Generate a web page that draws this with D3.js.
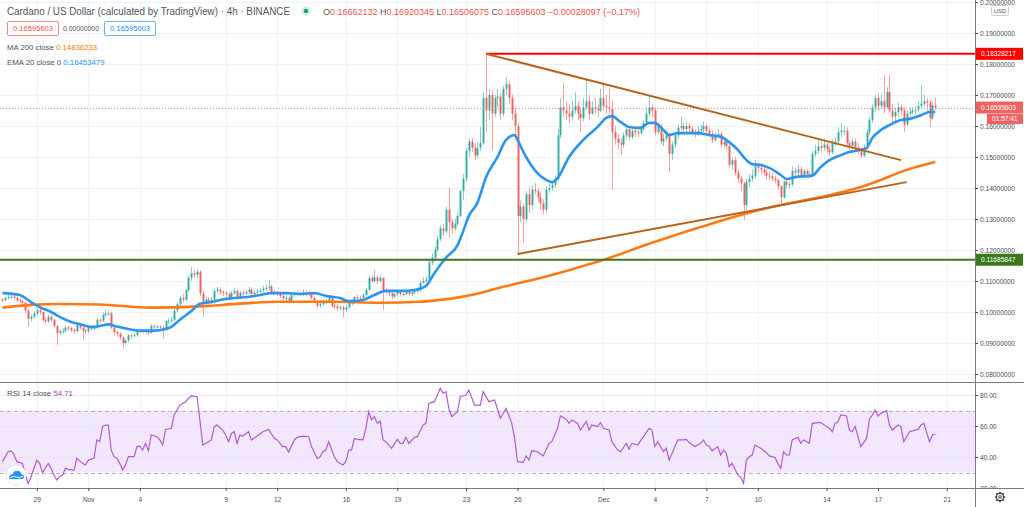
<!DOCTYPE html>
<html><head><meta charset="utf-8">
<script src="https://cdn.jsdelivr.net/npm/d3@7"></script>
<style>
html,body{margin:0;padding:0;background:#fff;}
svg{display:block;font-family:"Liberation Sans",Arial,sans-serif;}
</style></head><body>
<svg id="c" width="1024" height="507"></svg>
<script>
// ---------------- DATA ----------------
// 4h candles ADA/USD from 2020-10-27 00:00 UTC, prices in 1e-4 USD
const firstOpenE4 = 1040;
const closesE4 = [
1038,1045,1048,1050,1046,1038, 1035,1030,1005,978,985,995, 1005,1000,975,970,985,975,
955,932,938,940,950,948, 942,938,958,950,940,938,
948,945,950,975,972,990, 995,996,950,935,930,918, 900,908,925,922,925,938,
940,935,942,932,955,952, 953,950,942,970,972,975, 1005,1025,1045,1040,1070,1110,
1125,1120,1130,1060,1025,1040, 1035,1040,1068,1072,1065,1062, 1058,1045,1062,1068,1045,1062,
1060,1065,1072,1058,1062,1066, 1070,1076,1078,1082,1065,1062, 1060,1052,1045,1045,1035,1055,
1058,1060,1058,1062,1058,1060, 1045,1035,1020,1025,1032,1035, 1045,1020,1018,1012,1015,1008,
1015,1030,1030,1048,1046,1045, 1055,1072,1110,1100,1112,1100, 1110,1070,1065,1060,1050,1058,
1065,1058,1058,1068,1058,1063, 1068,1070,1095,1100,1105,1160, 1175,1200,1235,1270,1260,1330,
1290,1270,1285,1310,1390,1430, 1520,1550,1530,1505,1530,1545, 1690,1650,1700,1640,1690,1695,
1640,1720,1735,1690,1640,1600, 1310,1340,1300,1380,1345,1395, 1390,1370,1350,1330,1395,1400,
1410,1430,1570,1660,1650,1640, 1630,1650,1665,1640,1625,1660, 1680,1640,1660,1655,1650,1690,
1665,1660,1655,1580,1560,1545, 1540,1570,1590,1565,1585,1580, 1578,1590,1610,1640,1660,1650,
1580,1600,1550,1560,1570,1510, 1540,1570,1595,1600,1590,1600, 1592,1580,1575,1585,1590,1600,
1585,1575,1555,1570,1575,1540, 1550,1535,1475,1490,1450,1430, 1415,1345,1420,1430,1440,1470,
1465,1460,1450,1440,1438,1430, 1425,1405,1370,1420,1410,1412, 1455,1450,1460,1440,1455,1445,
1440,1510,1520,1535,1530,1540, 1525,1515,1545,1550,1580,1585, 1585,1545,1535,1550,1530,1525,
1505,1530,1580,1620,1660,1690, 1665,1680,1660,1710,1650,1630, 1645,1660,1650,1605,1640,1645,
1650,1652,1665,1672,1680,1676, 1625,1666.2132,1659.5603];
const highsE4 = [
1045,1050,1055,1058,1054,1050, 1046,1040,1032,1010,992,1002, 1012,1010,1002,982,992,990,
978,958,945,948,956,955, 952,948,962,962,954,946,
952,952,955,980,980,998, 1006,1003,1000,955,940,935, 922,912,930,930,932,942,
945,944,946,945,960,960, 958,958,955,975,980,985, 1012,1032,1052,1058,1075,1118,
1145,1135,1140,1135,1070,1048, 1048,1048,1075,1082,1080,1070, 1068,1062,1068,1078,1072,1068,
1070,1072,1082,1078,1070,1075, 1078,1085,1088,1103,1088,1072, 1068,1065,1058,1055,1050,1060,
1066,1068,1066,1072,1070,1068, 1065,1050,1040,1032,1040,1042, 1050,1048,1028,1025,1022,1020,
1022,1035,1038,1052,1055,1052, 1060,1078,1118,1120,1135,1118, 1118,1112,1078,1072,1068,1062,
1070,1070,1065,1075,1072,1068, 1075,1078,1100,1112,1115,1168, 1190,1210,1245,1280,1285,1340,
1400,1300,1300,1325,1395,1445, 1530,1561,1560,1545,1550,1597, 1710,1833,1720,1715,1700,1720,
1705,1730,1758,1745,1700,1660, 1610,1360,1350,1390,1400,1410, 1416,1400,1385,1365,1405,1415,
1420,1440,1590,1690,1739,1680, 1670,1680,1710,1680,1660,1690, 1748,1700,1680,1690,1670,1720,
1740,1700,1720,1680,1600,1575, 1560,1580,1600,1597,1595,1595, 1590,1600,1620,1660,1700,1670,
1660,1610,1605,1575,1585,1580, 1550,1580,1605,1630,1610,1615, 1610,1600,1590,1600,1605,1615,
1605,1595,1585,1580,1590,1580, 1560,1560,1540,1500,1500,1460, 1440,1420,1430,1445,1460,1490,
1480,1475,1470,1462,1455,1450, 1440,1430,1410,1425,1430,1420, 1470,1465,1475,1468,1462,1460,
1455,1520,1540,1560,1550,1560, 1552,1535,1555,1565,1595,1610, 1600,1595,1555,1560,1560,1545,
1530,1540,1590,1630,1670,1700, 1705,1700,1765,1725,1765,1670, 1660,1675,1670,1660,1650,1660,
1662,1665,1680,1732,1700,1690, 1685,1680,1692.0345];
const lowsE4 = [
1032,1035,1040,1042,1040,1032, 1028,1022,998,952,970,980, 990,992,968,962,965,968,
950,894,925,930,935,940, 935,930,935,944,910,928,
932,940,940,946,965,968, 985,988,945,925,920,910, 884,895,902,915,918,920,
932,930,930,925,930,945, 946,944,915,938,962,965, 970,998,1018,1030,1035,1065,
1100,1110,1110,1050,984,1015, 1020,1025,1035,1060,1055,1050, 1048,1038,1040,1055,1040,1040,
1052,1055,1058,1050,1052,1056, 1060,1064,1068,1070,1060,1055, 1052,1045,1038,1035,1028,1030,
1048,1050,1050,1052,1050,1050, 1040,1030,1012,1015,1020,1025, 1030,1015,1010,1005,1005,984,
1000,1010,1022,1025,1040,1038, 1040,1050,1068,1095,1095,1090, 1095,1006,1058,1052,1042,1045,
1052,1050,1050,1054,1052,1052, 1058,1060,1066,1090,1095,1100, 1150,1165,1195,1228,1245,1255,
1240,1255,1262,1278,1305,1360, 1420,1500,1515,1490,1495,1520, 1540,1580,1620,1520,1630,1660,
1620,1630,1700,1670,1620,1565, 1190,1290,1223,1290,1320,1330, 1380,1355,1330,1315,1320,1385,
1390,1400,1425,1560,1630,1620, 1610,1620,1640,1620,1580,1615, 1650,1620,1635,1640,1630,1645,
1650,1640,1640,1394,1540,1525, 1506,1530,1560,1555,1558,1565, 1565,1570,1585,1605,1630,1630,
1570,1572,1540,1535,1550,1452, 1490,1530,1560,1585,1580,1580, 1580,1570,1562,1568,1575,1580,
1575,1565,1545,1548,1560,1530, 1530,1525,1465,1460,1440,1416, 1390,1297,1330,1405,1420,1430,
1450,1445,1440,1425,1425,1420, 1415,1395,1345,1365,1400,1398, 1405,1440,1440,1432,1435,1438,
1430,1435,1500,1510,1515,1520, 1515,1505,1510,1535,1545,1565, 1570,1535,1520,1525,1520,1510,
1495,1500,1525,1570,1610,1645, 1650,1655,1640,1655,1640,1600, 1615,1630,1635,1580,1600,1630,
1635,1638,1645,1655,1662,1650, 1597,1620,1650.6075];
// EMA 20 readings: [candle index, price]
const ema20 = [[0,.1061],[6,.1055],[10,.1032],[13,.1016],[17,.1000],[20,.0984],[24,.0968],[27,.0961],[31,.0952],[34,.0955],[37,.0960],[40,.0953],[44,.0945],[48,.0940],[53,.0940],[57,.0945],[59,.0952],[62,.0975],[66,.1003],[69,.1027],[73,.1032],[76,.1039],[81,.1045],[87,.1050],[90,.1055],[94,.1061],[99,.1061],[104,.1058],[109,.1061],[113,.1052],[118,.1045],[121,.1035],[126,.1039],[130,.1055],[134,.1068],[139,.1068],[144,.1071],[148,.1084],[151,.1126],[155,.1175],[159,.1215],[161,.1260],[163,.1310],[166,.1352],[169,.1435],[173,.1500],[176,.1555],[179,.1571],[180,.1555],[183,.1500],[186,.1458],[190,.1426],[192,.1419],[194,.1432],[198,.1500],[203,.1555],[208,.1597],[211,.1626],[213,.1632],[216,.1613],[219,.1597],[223,.1594],[226,.1610],[228,.1610],[231,.1587],[233,.1571],[236,.1577],[243,.1577],[247,.1571],[251,.1565],[254,.1548],[257,.1523],[260,.1490],[262,.1477],[265,.1474],[268,.1465],[272,.1442],[274,.1429],[277,.1435],[283,.1440],[286,.1468],[289,.1490],[293,.1506],[296,.1516],[300,.1523],[302,.1529],[304,.1561],[307,.1587],[310,.1603],[314,.1619],[317,.1623],[321,.1635],[324,.1645],[326,.16453479]];
// MA 200 readings: [candle index, price]
const ma200 = [[0,.1014],[10,.1023],[20,.1026],[34,.1024],[52,.1014],[69,.1018],[83,.1027],[97,.1033],[115,.1033],[132,.1030],[146,.1033],[153,.1039],[160,.1048],[167,.1061],[174,.1079],[181,.1094],[188,.1110],[198,.1135],[209,.1165],[226,.1220],[244,.1274],[258,.1313],[272,.1345],[286,.1371],[300,.1403],[307,.1426],[314,.1452],[326,.14836233]];
// RSI 14 readings: [candle index, value]
const rsi14 = [[0,37],[2,43.4],[3,43.9],[4,41.9],[5,37],[7,35.9],[8,28.4],[9,23],[10,27.3],[11,32.7],[12,38],[13,35.9],[14,29.9],[16,35.9],[17,32.7],[18,28.4],[19,25.2],[20,27.3],[21,28.4],[22,32.7],[23,32],[25,31.5],[26,39.1],[28,35.9],[29,34.9],[30,38],[32,39.1],[33,51],[34,50],[35,59.6],[36,60.6],[37,60.6],[38,44.5],[39,40.2],[40,39.1],[41,35.9],[42,31.6],[43,34.9],[44,40.2],[46,40.2],[47,46.7],[48,47],[49,44.5],[50,48.8],[51,44],[52,54.2],[54,53.1],[55,51],[56,47.7],[57,57.8],[59,58.5],[60,67.1],[62,73.5],[64,75.7],[65,77.8],[66,79.4],[68,78.9],[69,63.9],[70,47.7],[72,49.9],[73,51],[74,59.6],[75,60.6],[77,57.4],[78,54.2],[79,49.9],[80,55.2],[81,56.3],[82,48.8],[83,54.2],[84,53.5],[86,56.3],[87,51],[89,53.5],[91,56.3],[93,57.8],[95,52],[96,51],[98,46.7],[99,46.7],[100,43.2],[102,51],[103,52.7],[105,53.5],[107,53.1],[108,46.7],[110,39.1],[111,40.2],[112,43.4],[113,44.5],[114,49.9],[116,40.2],[117,37],[119,34.9],[120,37],[121,44.5],[122,44.5],[123,52],[124,51.4],[126,51],[127,58.5],[128,69.2],[129,63.9],[130,66],[131,61.7],[132,63.3],[133,51],[134,49.9],[136,45.6],[138,51.4],[139,48.8],[140,48.8],[141,52.7],[142,48.8],[144,52.7],[145,53.1],[147,60.6],[148,61.7],[149,74.6],[151,75.7],[152,80],[153,84.3],[154,81.1],[155,82.1],[156,71.4],[157,66],[159,69.2],[160,78.9],[162,80],[163,83.2],[165,73.5],[167,73.5],[168,82.1],[170,75.7],[172,76.8],[174,65],[175,68.2],[176,71.4],[178,61.7],[179,52],[180,37],[182,36.5],[183,40.7],[184,38],[185,44],[187,43.4],[189,40.7],[191,48.8],[192,49.9],[194,58.5],[195,66.5],[197,64.4],[198,61.7],[199,63.9],[201,61.7],[202,57.4],[204,62.8],[205,57.4],[206,60.6],[208,59.6],[209,62.2],[210,58.5],[212,57.4],[213,49.9],[215,44.5],[216,43.4],[218,48.8],[219,45],[220,48.8],[222,47.7],[224,53.1],[226,58.5],[227,57.4],[228,46.7],[229,49.9],[231,43.4],[232,45.6],[233,38],[234,42.3],[236,51],[238,51],[239,51.4],[240,49.3],[242,46.7],[244,48.8],[245,51],[246,47.7],[247,47],[248,44],[250,46.7],[251,41.3],[252,44.5],[253,42.3],[254,33.8],[255,35.9],[257,28.4],[258,26.9],[259,23],[260,38],[261,40.2],[262,41.3],[263,47.7],[265,45.6],[267,42.8],[268,40.7],[270,39.7],[271,35.9],[272,32.7],[273,43.4],[274,41.3],[275,41.3],[276,51],[278,52.7],[279,48.8],[280,51],[282,48.8],[283,61.7],[285,62.2],[286,62.2],[288,59.6],[289,58.5],[290,56.3],[291,61.7],[292,62.8],[293,67.1],[295,66.5],[296,57.4],[297,56.3],[298,59.6],[300,46.7],[302,52],[303,64.4],[304,67.1],[305,70.3],[306,66.5],[307,68.2],[309,69.9],[310,60.6],[311,57.4],[313,60.6],[314,59.6],[315,49.9],[317,56.3],[320,57.8],[321,60.6],[322,61.7],[324,49.9],[325,54.2],[326,54.71]];
// Drawn levels / trendlines
const resistance = 0.18328217, support = 0.11685847, lastPrice = 0.16595603;
const resistanceStart = 169;
const upperTrend = [[169,0.1833],[314,0.1490]];
const lowerTrend = [[180,0.1187],[316,0.1419]];
// Axes
const priceTicks = [0.08,0.09,0.10,0.11,0.12,0.13,0.14,0.15,0.16,0.17,0.18,0.19,0.20];
const rsiTicks = [20,40,60,80];
const dateTicks = ["2020-10-29","2020-11-01","2020-11-04","2020-11-09","2020-11-12","2020-11-16","2020-11-19","2020-11-23","2020-11-26","2020-12-01","2020-12-04","2020-12-07","2020-12-10","2020-12-14","2020-12-17","2020-12-21"];
const dateLabels = ["29","Nov","4","9","12","16","19","23","26","Dec","4","7","10","14","17","21"];
const legend = {title:"Cardano / US Dollar (calculated by TradingView) · 4h · BINANCE",
  o:"0.16662132",h:"0.16920345",l:"0.16506075",c:"0.16595603",chg:"−0.00028097 (−0.17%)",
  ma:"0.14836233", ema:"0.16453479", rsi:"54.71", countdown:"01:57:41"};

// ---------------- CHART ----------------
const W=1024,H=507, PW=975, PB=382, RB=488;
const T0 = Date.UTC(2020,9,27,0,0), H4 = 4*3600*1000;
const x = d3.scaleUtc().domain([new Date(Date.UTC(2020,9,26,20,34)), new Date(Date.UTC(2020,11,22,15,33))]).range([0,PW]);
const ix = i => x(new Date(T0 + i*H4));
const y = d3.scaleLinear().domain([0.08,0.20]).range([374,2]);
const yr = d3.scaleLinear().domain([20,80]).range([RB,395]);
const P = v => v/1e4;

const svg = d3.select("#c");
svg.append("rect").attr("width",W).attr("height",H).attr("fill","#fff");
const defs = svg.append("defs");
defs.append("clipPath").attr("id","cp").append("rect").attr("x",0).attr("y",0).attr("width",PW).attr("height",PB);
defs.append("clipPath").attr("id","cr").append("rect").attr("x",0).attr("y",PB).attr("width",PW).attr("height",RB-PB);
defs.append("clipPath").attr("id","cpa").append("rect").attr("x",PW).attr("y",0).attr("width",W-PW).attr("height",PB);
defs.append("clipPath").attr("id","cra").append("rect").attr("x",PW).attr("y",PB).attr("width",W-PW).attr("height",RB-PB);

const dates = dateTicks.map(s=>new Date(s+"T00:00:00Z"));
const gridC = "#eef1f6";
// RSI band
svg.append("rect").attr("x",0).attr("width",PW).attr("y",yr(70)).attr("height",yr(30)-yr(70)).attr("fill","#f3e7fd");
// grid
const g0 = svg.append("g");
g0.selectAll("line.v").data(dates).join("line").attr("class","v")
  .attr("x1",d=>Math.round(x(d))+0.5).attr("x2",d=>Math.round(x(d))+0.5).attr("y1",0).attr("y2",RB)
  .attr("stroke",gridC).attr("stroke-opacity",0.9);
g0.selectAll("line.h").data(priceTicks).join("line").attr("class","h")
  .attr("x1",0).attr("x2",PW).attr("y1",d=>Math.round(y(d))+0.5).attr("y2",d=>Math.round(y(d))+0.5).attr("stroke",gridC);
g0.selectAll("line.r").data([40,60,80]).join("line").attr("class","r")
  .attr("x1",0).attr("x2",PW).attr("y1",d=>Math.round(yr(d))+0.5).attr("y2",d=>Math.round(yr(d))+0.5).attr("stroke","#e6e3f0").attr("stroke-opacity",0.8);
g0.selectAll("line.d").data([70,30]).join("line").attr("class","d")
  .attr("x1",0).attr("x2",PW).attr("y1",d=>Math.round(yr(d))+0.5).attr("y2",d=>Math.round(yr(d))+0.5)
  .attr("stroke","#b9b2c4").attr("stroke-dasharray","4,3");

// price pane
const pg = svg.append("g").attr("clip-path","url(#cp)");
// support line under candles? draw levels after
const candles = closesE4.map((c,i)=>({i, o:P(i?closesE4[i-1]:firstOpenE4), c:P(c), h:P(highsE4[i]), l:P(lowsE4[i])}));
const up="#26a69a", dn="#ef5350";
pg.selectAll("line.w").data(candles).join("line").attr("class","w")
  .attr("x1",d=>Math.round(ix(d.i))+0.5).attr("x2",d=>Math.round(ix(d.i))+0.5)
  .attr("y1",d=>y(Math.max(d.h,d.o,d.c))).attr("y2",d=>y(Math.min(d.l,d.o,d.c)))
  .attr("stroke",d=>d.c>=d.o?up:dn).attr("stroke-opacity",0.55).attr("stroke-width",1);
pg.selectAll("rect.b").data(candles).join("rect").attr("class","b")
  .attr("x",d=>Math.round(ix(d.i))-0.5).attr("width",2)
  .attr("y",d=>y(Math.max(d.o,d.c))).attr("height",d=>Math.max(1,Math.abs(y(d.o)-y(d.c))))
  .attr("fill",d=>d.c>=d.o?up:dn).attr("fill-opacity",0.85);

// current price dotted line
pg.append("line").attr("x1",0).attr("x2",PW).attr("y1",Math.round(y(lastPrice))+0.5).attr("y2",Math.round(y(lastPrice))+0.5)
  .attr("stroke","#f08a8a").attr("stroke-dasharray","1,2");

const ln = d3.line().x(d=>ix(d[0])).y(d=>y(d[1]));
const lnc = d3.line().curve(d3.curveMonotoneX).x(d=>ix(d[0])).y(d=>y(d[1]));
pg.append("path").attr("d",lnc(ma200)).attr("fill","none").attr("stroke","#ff7a12").attr("stroke-width",2.6);
pg.append("path").attr("d",lnc(ema20)).attr("fill","none").attr("stroke","#2d95ec").attr("stroke-width",2.6);
// levels
pg.append("line").attr("x1",0).attr("x2",PW).attr("y1",y(support)).attr("y2",y(support)).attr("stroke","#3b7a1c").attr("stroke-width",2);
pg.append("line").attr("x1",ix(resistanceStart)).attr("x2",PW).attr("y1",y(resistance)).attr("y2",y(resistance)).attr("stroke","#ff0000").attr("stroke-width",2);
pg.append("path").attr("d",ln(upperTrend)).attr("stroke","#b8651f").attr("stroke-width",2).attr("fill","none");
pg.append("path").attr("d",ln(lowerTrend)).attr("stroke","#b8651f").attr("stroke-width",2).attr("fill","none");

// RSI pane
const rg = svg.append("g").attr("clip-path","url(#cr)");
const rl = d3.line().x(d=>ix(d[0])).y(d=>yr(d[1]));
rg.append("path").attr("d",rl(rsi14)).attr("fill","none").attr("stroke","#b25bd2").attr("stroke-width",1.2);

// separators
const sep="#787b84";
svg.append("line").attr("x1",0).attr("x2",W).attr("y1",PB+0.5).attr("y2",PB+0.5).attr("stroke",sep);
svg.append("line").attr("x1",0).attr("x2",W).attr("y1",RB+0.5).attr("y2",RB+0.5).attr("stroke",sep);
svg.append("line").attr("x1",PW+0.5).attr("x2",PW+0.5).attr("y1",0).attr("y2",H).attr("stroke",sep);

// axes
const axC="#4a4e59", fs="6.6px";
const pax = svg.append("g").attr("clip-path","url(#cpa)").append("g").attr("transform",`translate(${PW},0)`)
  .call(d3.axisRight(y).tickValues(priceTicks).tickFormat(d3.format(".8f")).tickSize(3).tickPadding(2));
const rax = svg.append("g").attr("clip-path","url(#cra)").append("g").attr("transform",`translate(${PW},0)`)
  .call(d3.axisRight(yr).tickValues(rsiTicks).tickFormat(d3.format(".2f")).tickSize(3).tickPadding(2));
const xax = svg.append("g").attr("transform",`translate(0,${RB})`)
  .call(d3.axisBottom(x).tickValues(dates).tickFormat((d,i)=>dateLabels[i]).tickSize(3).tickPadding(6));
[pax,rax,xax].forEach(a=>{
  a.select(".domain").remove();
  a.selectAll("line").attr("stroke",axC);
  a.selectAll("text").attr("fill",axC).style("font-size",fs).style("font-family",'"Liberation Sans",Arial,sans-serif');
});

// axis price labels
function tag(v,fill,txt){
  const yy=y(v);
  svg.append("rect").attr("x",PW+1).attr("y",yy-6).attr("width",47).attr("height",12).attr("fill",fill);
  svg.append("text").attr("x",PW+6).attr("y",yy).attr("dy","0.34em").attr("fill","#fff").style("font-size",fs).text(txt);
}
tag(resistance,"#ff0000",d3.format(".8f")(resistance));
tag(support,"#3b7a1c",d3.format(".8f")(support));
tag(lastPrice,"#f06262",d3.format(".8f")(lastPrice));
svg.append("rect").attr("x",987).attr("y",y(lastPrice)+6.5).attr("width",36).attr("height",10).attr("fill","#f06262");
svg.append("text").attr("x",992).attr("y",y(lastPrice)+11.5).attr("dy","0.34em").attr("fill","#fff").style("font-size",fs).text(legend.countdown);
// USD box
svg.append("rect").attr("x",991.5).attr("y",5.5).attr("width",17).attr("height",10).attr("rx",2).attr("fill","#fff").attr("stroke","#c9ccd3");
svg.append("text").attr("x",1000).attr("y",10.5).attr("dy","0.34em").attr("text-anchor","middle").attr("fill","#555").style("font-size","6px").text("USD");

// legend
const txtC="#50535e";
svg.append("text").attr("x",7).attr("y",15).attr("fill",txtC).style("font-size","10px")
  .attr("textLength",283).attr("lengthAdjust","spacingAndGlyphs").text(legend.title);
svg.append("circle").attr("cx",306).attr("cy",11).attr("r",5).attr("fill","#d9f0ec");
svg.append("circle").attr("cx",306).attr("cy",11).attr("r",2.3).attr("fill","#1f9e8a");
const ohlc = svg.append("text").attr("x",323).attr("y",15).style("font-size","8.2px").attr("textLength",317).attr("lengthAdjust","spacingAndGlyphs");
[["O",txtC],[legend.o,dn],[" H",txtC],[legend.h,dn],[" L",txtC],[legend.l,dn],[" C",txtC],[legend.c,dn],[" "+legend.chg,dn]]
  .forEach(([t,c])=>ohlc.append("tspan").attr("fill",c).text(t));
svg.append("rect").attr("x",7.5).attr("y",21.5).attr("width",51).attr("height",14).attr("rx",1.5).attr("fill","#fff").attr("stroke","#f28b8e");
svg.append("text").attr("x",33).attr("y",28.5).attr("dy","0.35em").attr("text-anchor","middle").attr("fill",dn).style("font-size","7.6px").text(legend.c);
svg.append("text").attr("x",63).attr("y",28.5).attr("dy","0.35em").attr("fill","#555").style("font-size","6.8px").text("0.00000000");
svg.append("rect").attr("x",104.5).attr("y",21.5).attr("width",51).attr("height",14).attr("rx",1.5).attr("fill","#fff").attr("stroke","#64b3f4");
svg.append("text").attr("x",130).attr("y",28.5).attr("dy","0.35em").attr("text-anchor","middle").attr("fill","#2196f3").style("font-size","7.6px").text(legend.c);
const l3 = svg.append("text").attr("x",7).attr("y",49.5).style("font-size","7.8px");
l3.append("tspan").attr("fill",txtC).text("MA 200 close ");
l3.append("tspan").attr("fill","#f57c00").text(legend.ma);
const l4 = svg.append("text").attr("x",7).attr("y",64.5).style("font-size","7.8px");
l4.append("tspan").attr("fill",txtC).text("EMA 20 close 0 ");
l4.append("tspan").attr("fill","#2196f3").text(legend.ema);
const l5 = svg.append("text").attr("x",7).attr("y",396).style("font-size","7.8px");
l5.append("tspan").attr("fill",txtC).text("RSI 14 close ");
l5.append("tspan").attr("fill","#a040c0").text(legend.rsi);

// logo
svg.append("circle").attr("cx",16).attr("cy",475).attr("r",10).attr("fill","#fff").attr("stroke","#e3e5ea");
svg.append("path").attr("d","M9,479 Q9,474 13,474 Q14,470 18,471 Q21,471 21,474 Q24,474 24,477 Q24,479 22,479 Z").attr("fill","#2196f3");
svg.append("path").attr("d","M10,478 Q13,475 16,477 Q19,479 23,476").attr("fill","none").attr("stroke","#fff").attr("stroke-width",1);
// settings gear
const gear = svg.append("g").attr("transform","translate(1000,497)");
gear.append("circle").attr("r",3.6).attr("fill","none").attr("stroke","#333").attr("stroke-width",1.1);
d3.range(8).forEach(k=>{const a=k*Math.PI/4; gear.append("line").attr("x1",3.6*Math.cos(a)).attr("y1",3.6*Math.sin(a)).attr("x2",5.2*Math.cos(a)).attr("y2",5.2*Math.sin(a)).attr("stroke","#333").attr("stroke-width",1.3);});
gear.append("circle").attr("r",1.3).attr("fill","none").attr("stroke","#333").attr("stroke-width",0.9);

if (closesE4.length!==327||highsE4.length!==327||lowsE4.length!==327) console.error("len",closesE4.length,highsE4.length,lowsE4.length);
</script>
</body></html>
